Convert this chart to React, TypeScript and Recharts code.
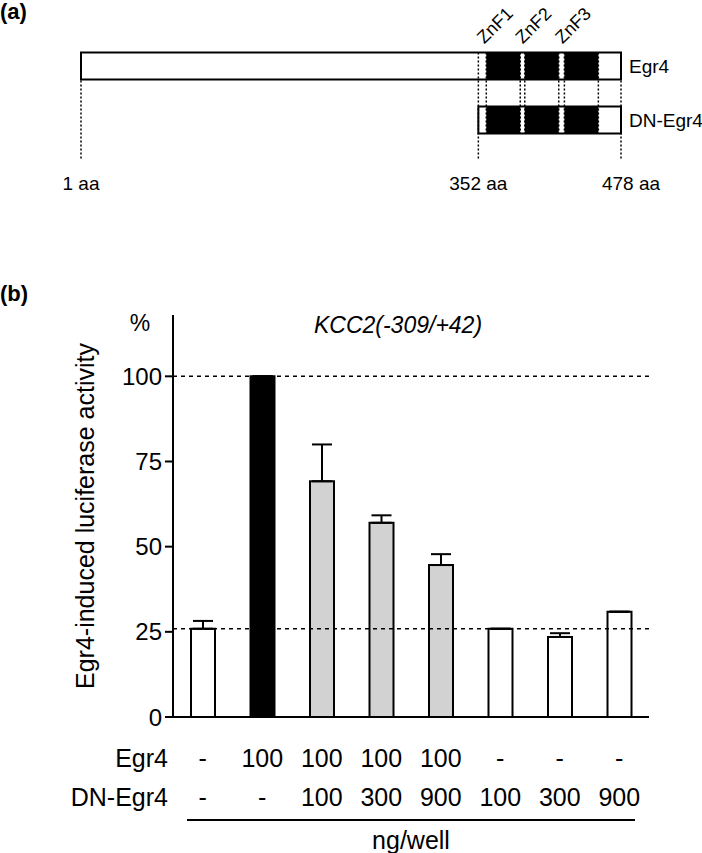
import { ComposedChart, BarChart, Bar, Line, XAxis, YAxis, ReferenceArea, ReferenceLine, ErrorBar, Cell, Label } from 'recharts';

const FONT = 'Arial, "Liberation Sans", Helvetica, sans-serif';

// (a) domain map, positions in amino acids
const constructs = ['Egr4', 'DN-Egr4'];
const constructStart = [1, 352];
const constructEnd = [478, 478];
const fingerNames = ['ZnF1', 'ZnF2', 'ZnF3'];
const fingerStart = [359, 393, 428];
const fingerEnd = [389, 423, 458];
const aaTicks = [1, 352, 478];

// (b) luciferase assay
const conditions = ['ctrl', 'Egr4', 'DN100', 'DN300', 'DN900', 'onlyDN100', 'onlyDN300', 'onlyDN900'];
const egr4Amount = ['-', '100', '100', '100', '100', '-', '-', '-'];
const dnAmount = ['-', '-', '100', '300', '900', '100', '300', '900'];
const activity = [25.9, 100, 69.2, 57.0, 44.6, 25.9, 23.5, 30.9];
const activityErr = [2.3, 0, 10.8, 2.2, 3.2, 0, 1.1, 0];
const barFill = ['#ffffff', '#000000', '#d2d2d2', '#d2d2d2', '#d2d2d2', '#ffffff', '#ffffff', '#ffffff'];
const yTicks = [0, 25, 50, 75, 100];
const guideLevels = [100, 25.9];

const rows = conditions.map((c, i) => ({ id: c, activity: activity[i], err: [0, activityErr[i]] }));
// anchor points so the map's axes get a series (row 1 = Egr4 line)
const aaData = aaTicks.map(aa => ({ aa, row: 1 }));

const boundaries = fingerStart.flatMap((s, i) => [s, fingerEnd[i]]);

function AmountTick({ x, y, payload }: any) {
  const i = conditions.indexOf(payload.value);
  return (
    <g fontFamily={FONT} fontSize={25} fill="#000">
      <text x={x} y={y + 41} textAnchor="middle" dominantBaseline="central">{egr4Amount[i]}</text>
      <text x={x} y={y + 80} textAnchor="middle" dominantBaseline="central">{dnAmount[i]}</text>
    </g>
  );
}

function AaTick({ x, y, payload }: any) {
  // the last label sits a little right of its guide in the original
  const dx = payload.value === 478 ? 10 : 0;
  return (
    <text x={x + dx} y={y + 12} textAnchor="middle" dominantBaseline="central" fontSize={19} fontFamily={FONT} fill="#000">
      {`${payload.value} aa`}
    </text>
  );
}

function DomainMap() {
  return (
    <ComposedChart width={702} height={201} data={aaData} margin={{ top: 12, right: 81, left: 81, bottom: 0 }}>
      <XAxis
        dataKey="aa"
        type="number"
        domain={[1, 478]}
        ticks={aaTicks}
        interval={0}
        axisLine={false}
        tickLine={false}
        tickSize={0}
        tickMargin={0}
        height={30}
        tick={<AaTick />}
      />
      <YAxis type="number" domain={[0, 2.944]} reversed hide allowDataOverflow />
      <Line dataKey="row" stroke="none" dot={false} activeDot={false} isAnimationActive={false} />
      {constructs.map((name, i) => (
        <ReferenceArea
          key={name}
          x1={constructStart[i]}
          x2={constructEnd[i]}
          y1={i + 0.75}
          y2={i + 1.25}
          fill="#fff"
          fillOpacity={1}
          stroke="#000"
          strokeWidth={2}
          ifOverflow="visible"
          label={{ value: name, position: 'right', offset: 8, fill: '#000', fontSize: 19, fontFamily: FONT }}
        />
      ))}
      {constructs.map((name, r) =>
        fingerNames.map((f, i) => (
          <ReferenceArea
            key={name + f}
            x1={fingerStart[i]}
            x2={fingerEnd[i]}
            y1={r + 0.75}
            y2={r + 1.25}
            fill="#000"
            fillOpacity={1}
            stroke="none"
            ifOverflow="visible"
            label={
              r === 0
                ? {
                    content: ({ viewBox }: any) => (
                      <text
                        x={viewBox.x - 2}
                        y={viewBox.y - 8}
                        transform={`rotate(-45 ${viewBox.x - 2} ${viewBox.y - 8})`}
                        fontSize={18}
                        fontFamily={FONT}
                        fill="#000"
                      >
                        {f}
                      </text>
                    ),
                  }
                : undefined
            }
          />
        ))
      )}
      {aaTicks.map(aa => (
        <ReferenceLine
          key={'aa' + aa}
          segment={[{ x: aa, y: 0.75 }, { x: aa, y: 2.72 }]}
          stroke="#000"
          strokeWidth={1.5}
          strokeDasharray="2 2"
          ifOverflow="visible"
        />
      ))}
      {boundaries.map(aa => (
        <ReferenceLine
          key={'b' + aa}
          segment={[{ x: aa, y: 0.75 }, { x: aa, y: 2.25 }]}
          stroke="#000"
          strokeWidth={1.5}
          strokeDasharray="2 2"
          ifOverflow="visible"
        />
      ))}
    </ComposedChart>
  );
}

function ActivityChart() {
  return (
    <BarChart width={702} height={583} data={rows} margin={{ top: 45, right: 53, left: 73, bottom: 0 }}>
      <XAxis
        dataKey="id"
        axisLine={{ stroke: '#000', strokeWidth: 2 }}
        tickLine={false}
        tickSize={0}
        tickMargin={0}
        height={136}
        interval={0}
        tick={<AmountTick />}
      >
        <Label
          content={({ viewBox }: any) => (
            <g fontFamily={FONT} fontSize={25} fill="#000">
              <text x={viewBox.x - 5} y={viewBox.y + 41} textAnchor="end" dominantBaseline="central">Egr4</text>
              <text x={viewBox.x - 5} y={viewBox.y + 80} textAnchor="end" dominantBaseline="central">DN-Egr4</text>
              <line x1={viewBox.x + 14} x2={viewBox.x + viewBox.width - 14} y1={viewBox.y + 103} y2={viewBox.y + 103} stroke="#000" strokeWidth={2} />
              <text x={viewBox.x + viewBox.width / 2} y={viewBox.y + 123} textAnchor="middle" dominantBaseline="central">ng/well</text>
            </g>
          )}
        />
      </XAxis>
      <YAxis
        type="number"
        domain={[0, 118]}
        ticks={yTicks}
        width={100}
        axisLine={{ stroke: '#000', strokeWidth: 2 }}
        tickLine={{ stroke: '#000', strokeWidth: 2 }}
        tickSize={8}
        tickMargin={3}
        tick={{ fill: '#000', fontSize: 24, fontFamily: FONT }}
      >
        <Label
          value="Egr4-induced luciferase activity"
          angle={-90}
          position="insideLeft"
          offset={12}
          style={{ textAnchor: 'middle', fontSize: 25, fontFamily: FONT, fill: '#000' }}
        />
        <Label
          content={({ viewBox }: any) => (
            <text x={viewBox.x + viewBox.width - 33} y={viewBox.y + 8} textAnchor="middle" dominantBaseline="central" fontSize={23} fontFamily={FONT} fill="#000">
              %
            </text>
          )}
        />
      </YAxis>
      {guideLevels.map(v => (
        <ReferenceLine key={v} y={v} stroke="#000" strokeWidth={1.5} strokeDasharray="4 4" />
      ))}
      <Bar dataKey="activity" barSize={24} stroke="#000" strokeWidth={2} isAnimationActive={false}>
        {rows.map((r, i) => (
          <Cell key={r.id} fill={barFill[i]} />
        ))}
        <ErrorBar dataKey="err" width={10} stroke="#000" strokeWidth={2} isAnimationActive={false} />
      </Bar>
    </BarChart>
  );
}

export default function App() {
  return (
    <div style={{ position: 'absolute', left: 0, top: 0, width: 702, height: 853, background: '#fff', fontFamily: FONT, color: '#000' }}>
      <div style={{ position: 'absolute', left: 0, top: 0 }}>
        <DomainMap />
      </div>
      <div style={{ position: 'absolute', left: 0, top: 270 }}>
        <ActivityChart />
      </div>
      <div style={{ position: 'absolute', left: 0, top: 1, fontSize: 22, fontWeight: 'bold', lineHeight: 1 }}>(a)</div>
      <div style={{ position: 'absolute', left: 0, top: 283, fontSize: 22, fontWeight: 'bold', lineHeight: 1 }}>(b)</div>
      <div style={{ position: 'absolute', left: 398, top: 325, transform: 'translate(-50%, -50%)', fontSize: 23, fontStyle: 'italic', whiteSpace: 'nowrap', lineHeight: 1 }}>
        KCC2(-309/+42)
      </div>
    </div>
  );
}
